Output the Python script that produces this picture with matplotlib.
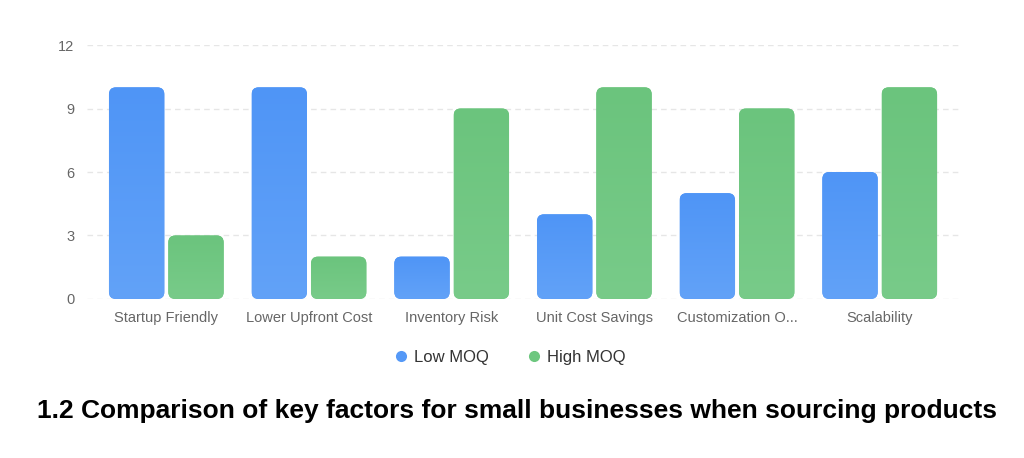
import numpy as np
import matplotlib
matplotlib.use("Agg")
import matplotlib.pyplot as plt
from matplotlib.patches import FancyBboxPatch
from matplotlib.lines import Line2D
from matplotlib.colors import LinearSegmentedColormap

categories = ["Startup Friendly", "Lower Upfront Cost", "Inventory Risk",
              "Unit Cost Savings", "Customization O...", "Scalability"]
low_moq = [10, 10, 2, 4, 5, 6]
high_moq = [3, 2, 9, 10, 9, 10]
series_names = ["Low MOQ", "High MOQ"]
yticks = [0, 3, 6, 9, 12]
title = "1.2 Comparison of key factors for small businesses when sourcing products"

legend_colors = ["#5599f7", "#6dc77f"]
colors_top = ["#4f95f6", "#6bc47d"]
colors_bot = ["#62a2f8", "#78cb89"]

plt.rcParams["font.family"] = ["Liberation Sans", "DejaVu Sans"]

fig = plt.figure(figsize=(10.24, 4.58), dpi=100)
ax = fig.add_axes([0.0850, 0.3472, 0.8515, 0.5545])

x = np.arange(len(categories))
bw = 0.388
gap = 0.028
off = (bw + gap) / 2
xlim = (-0.5556, 5.5556)
ylim = (0, 12)
ax.set_xlim(*xlim)
ax.set_ylim(*ylim)

ax_w_px = 0.8515 * 1024
ax_h_px = 0.5545 * 458
xu_per_px = (xlim[1] - xlim[0]) / ax_w_px
yu_per_px = (ylim[1] - ylim[0]) / ax_h_px
radius_px = 7
r = radius_px * xu_per_px
aspect = yu_per_px / xu_per_px

grad = np.linspace(0, 1, 256).reshape(-1, 1)
for si, vals in enumerate([low_moq, high_moq]):
    bars = ax.bar(x + (-off if si == 0 else off), vals, width=bw, alpha=0)
    cmap = LinearSegmentedColormap.from_list(f"g{si}", [colors_bot[si], colors_top[si]])
    for b in bars:
        x0, y0 = b.get_x(), b.get_y()
        w, h = b.get_width(), b.get_height()
        p = FancyBboxPatch((x0, y0), w, h,
                           boxstyle=f"round,pad=0,rounding_size={r}",
                           mutation_aspect=aspect, facecolor=legend_colors[si],
                           edgecolor="none", zorder=2)
        ax.add_patch(p)
        im = ax.imshow(grad, extent=(x0, x0 + w, y0, y0 + h), origin="lower",
                       cmap=cmap, aspect="auto", zorder=3, interpolation="bilinear")
        im.set_clip_path(p)

ax.set_xlim(*xlim)
ax.set_ylim(*ylim)

for s in ax.spines.values():
    s.set_visible(False)
ax.set_yticks(yticks)
ax.set_yticklabels([str(t) for t in yticks])
ax.set_xticks(x)
ax.set_xticklabels(categories)
ax.tick_params(axis="both", length=0, colors="#666666")
ax.tick_params(axis="x", labelsize=10.5, pad=9)
ax.tick_params(axis="y", labelsize=10.5, pad=9)
ax.grid(axis="y", color="#e6e6e6", linestyle=(0, (4, 3)), linewidth=1)
ax.set_axisbelow(True)

handles = [Line2D([], [], marker="o", linestyle="none", markersize=8,
                  markerfacecolor=c, markeredgecolor="none") for c in legend_colors]
fig.legend(handles, series_names, loc="center", bbox_to_anchor=(0.497, 0.2205),
           ncol=2, frameon=False, fontsize=12, handletextpad=0.3,
           columnspacing=2.2, handlelength=1.0, labelcolor="#333333")

fig.text(0.505, 1 - 411 / 458, title, ha="center", va="center",
         fontsize=19, fontweight="bold", color="#000000")

fig.savefig("out.png", dpi=100, facecolor="white")
